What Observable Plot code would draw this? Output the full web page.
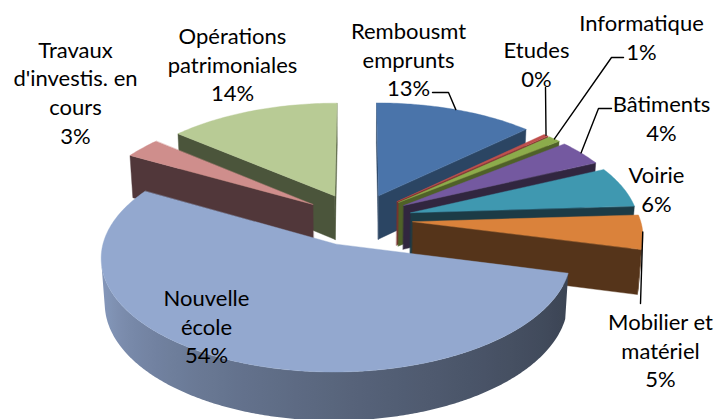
<!DOCTYPE html>
<html><head><meta charset="utf-8">
<script src="https://cdn.jsdelivr.net/npm/d3@7"></script>
<script src="https://cdn.jsdelivr.net/npm/@observablehq/plot@0.6"></script>
<style>body{margin:0;background:#fff}</style>
</head><body><div id="chart"></div>
<script>
// ---- data ----
const slices = ["Rembousmt emprunts","Etudes","Informatique","Bâtiments","Voirie","Mobilier et matériel","Nouvelle école","Travaux d'investis. en cours","Opérations patrimoniales"];
const labelText = ["Rembousmt\nemprunts","Etudes","Informatique","Bâtiments","Voirie","Mobilier et\nmatériel","Nouvelle\nécole","Travaux\nd'investis. en\ncours","Opérations\npatrimoniales"];
const shares = [12.8, 0.4, 1.0, 3.8, 6.0, 5.0, 54.2, 3.0, 13.8];
const topColors = ["#4a74aa","#c0504d","#8cac4b","#7459a0","#3f98b0","#da823b","#93a8cf","#cf8e8c","#b8cb95"];
const sideColors = ["#2b4563","#7a2f2e","#4f6128","#31263f","#1c3b46","#55341a","#3c4456","#51373a","#4b553b"];
// label layout (pixel centres of text blocks)
const labelXY = [[408,58],[536,63],[641,36],[661,117],[656,188],[660,349],[206,325],[75,91],[232,63]];
// leader lines: start near label, optional elbow, end on slice edge (computed)
const leaderLayout = [
  {slice:0, pts:[[432,92],[448,92]]},
  {slice:1, pts:[[545,87]]},
  {slice:2, pts:[[623,57],[611,57]]},
  {slice:3, pts:[[611,108],[598,108]]},
  {slice:5, pts:[[640,303]]}
];

// ---- 3D projection ----
const W = 726, H = 419;
const phi = 29*Math.PI/180, D = 8, F = 1808, CX = 357, CY = 241;
const EXPLODE = 0.243, HALF = 0.112;
function project(X, Y, Z) {
  const v = Y*Math.cos(phi) + Z*Math.sin(phi);
  const w = D - Y*Math.sin(phi) + Z*Math.cos(phi);
  return [CX + F*X/w, CY - F*v/w];
}
const camZ = D*Math.cos(phi);
const total = d3.sum(shares);
let acc = 0;
const arcs = shares.map((v, i) => {
  const a0 = acc/total*2*Math.PI; acc += v;
  const a1 = acc/total*2*Math.PI;
  const m = (a0 + a1)/2;
  return {i, a0, a1, m, ox: EXPLODE*Math.sin(m), oz: EXPLODE*Math.cos(m)};
});
const rad = Math.PI/180;
const shade = (color, t) => {
  const deg = t/rad;
  const kk = 0.33 + Math.max(0, Math.min(1, (250 - deg)/140))*2.17;
  return d3.rgb(color).darker(kk).formatHex();
};

const order = arcs.slice().sort((a, b) => Math.cos(b.m) - Math.cos(a.m));
const gradients = [];
const marks = [];
let fid = 0;
const toRows = (faces) => faces.flatMap(f => f.pts.map(([x, y]) => ({id: f.id, x, y, fill: f.fill})));

for (const s of order) {
  const top = topColors[s.i], side = sideColors[s.i];
  const P = (t, Y) => project(s.ox + Math.sin(t), Y, s.oz + Math.cos(t));
  const A = (Y) => project(s.ox, Y, s.oz);
  const sideFaces = [];
  // radial faces
  const n0 = [-Math.cos(s.a0), Math.sin(s.a0)];
  if (s.ox*n0[0] + (s.oz + camZ)*n0[1] < 0)
    sideFaces.push({id: fid++, pts: [A(HALF), P(s.a0, HALF), P(s.a0, -HALF), A(-HALF)], fill: side});
  const n1 = [Math.cos(s.a1), -Math.sin(s.a1)];
  if (s.ox*n1[0] + (s.oz + camZ)*n1[1] < 0)
    sideFaces.push({id: fid++, pts: [A(HALF), P(s.a1, HALF), P(s.a1, -HALF), A(-HALF)], fill: side});
  if (sideFaces.length)
    marks.push(Plot.line(toRows(sideFaces), {x: "x", y: "y", z: "id", fill: "fill", stroke: "fill", strokeWidth: 0.4, curve: "linear-closed"}));

  // outer wall: visible angular range, one polygon with a horizontal gradient
  const vis = [];
  const steps = Math.max(4, Math.ceil((s.a1 - s.a0)/(0.5*rad)));
  for (let k = 0; k <= steps; k++) {
    const t = s.a0 + (s.a1 - s.a0)*k/steps;
    const X = s.ox + Math.sin(t), Z = s.oz + Math.cos(t);
    if (X*Math.sin(t) + (Z + camZ)*Math.cos(t) < 0) vis.push(t);
  }
  if (vis.length > 1) {
    const gid = "wall" + s.i;
    const pts = vis.map(t => P(t, HALF)).concat(vis.slice().reverse().map(t => P(t, -HALF)));
    const xs = vis.map(t => P(t, HALF)[0]);
    const x1 = d3.min(xs), x2 = d3.max(xs);
    const stops = vis.filter((t, k) => k % 8 === 0 || k === vis.length - 1)
      .map(t => ({o: (P(t, HALF)[0] - x1)/Math.max(1, x2 - x1), c: shade(top, t)}))
      .sort((a, b) => a.o - b.o);
    gradients.push({id: gid, x1, x2, stops});
    marks.push(Plot.line(pts.map(([x, y]) => ({x, y})), {x: "x", y: "y", fill: `url(#${gid})`, stroke: "none", curve: "linear-closed"}));
  }
  // top face
  const nTop = Math.max(2, Math.ceil((s.a1 - s.a0)/(1*rad)));
  const tp = [A(HALF)];
  for (let k = 0; k <= nTop; k++) tp.push(P(s.a0 + (s.a1 - s.a0)*k/nTop, HALF));
  marks.push(Plot.line(tp.map(([x, y]) => ({x, y})), {x: "x", y: "y", fill: top, stroke: top, strokeWidth: 0.4, curve: "linear-closed"}));
}

const defsMark = () => {
  const defs = document.createElementNS("http://www.w3.org/2000/svg", "defs");
  defs.innerHTML = gradients.map(g =>
    `<linearGradient id="${g.id}" gradientUnits="userSpaceOnUse" x1="${g.x1}" y1="0" x2="${g.x2}" y2="0">` +
    g.stops.map(st => `<stop offset="${st.o}" stop-color="${st.c}"/>`).join("") +
    `</linearGradient>`).join("");
  return defs;
};

const labels = arcs.map(s => ({
  x: labelXY[s.i][0], y: labelXY[s.i][1],
  text: labelText[s.i] + "\n" + Math.round(shares[s.i]) + "%"
}));
const leaderRows = leaderLayout.flatMap((L, j) => {
  const s = arcs[L.slice];
  const end = project(s.ox + Math.sin(s.m), HALF, s.oz + Math.cos(s.m));
  return [...L.pts, end].map(([x, y]) => ({id: j, x, y}));
});

const chart = Plot.plot({
  width: W, height: H, margin: 0,
  style: {background: "white"},
  x: {domain: [0, W], range: [0, W], axis: null},
  y: {domain: [0, H], range: [0, H], axis: null},
  color: {type: "identity"},
  marks: [
    defsMark,
    ...marks,
    Plot.line(leaderRows, {x: "x", y: "y", z: "id", stroke: "black", strokeWidth: 1.4}),
    Plot.text(labels, {x: "x", y: "y", text: "text", fontSize: 22, fontFamily: "Lato, 'Open Sans', sans-serif", lineHeight: 1.3, fill: "black"})
  ]
});
document.getElementById("chart").appendChild(chart);
</script>
</body></html>
